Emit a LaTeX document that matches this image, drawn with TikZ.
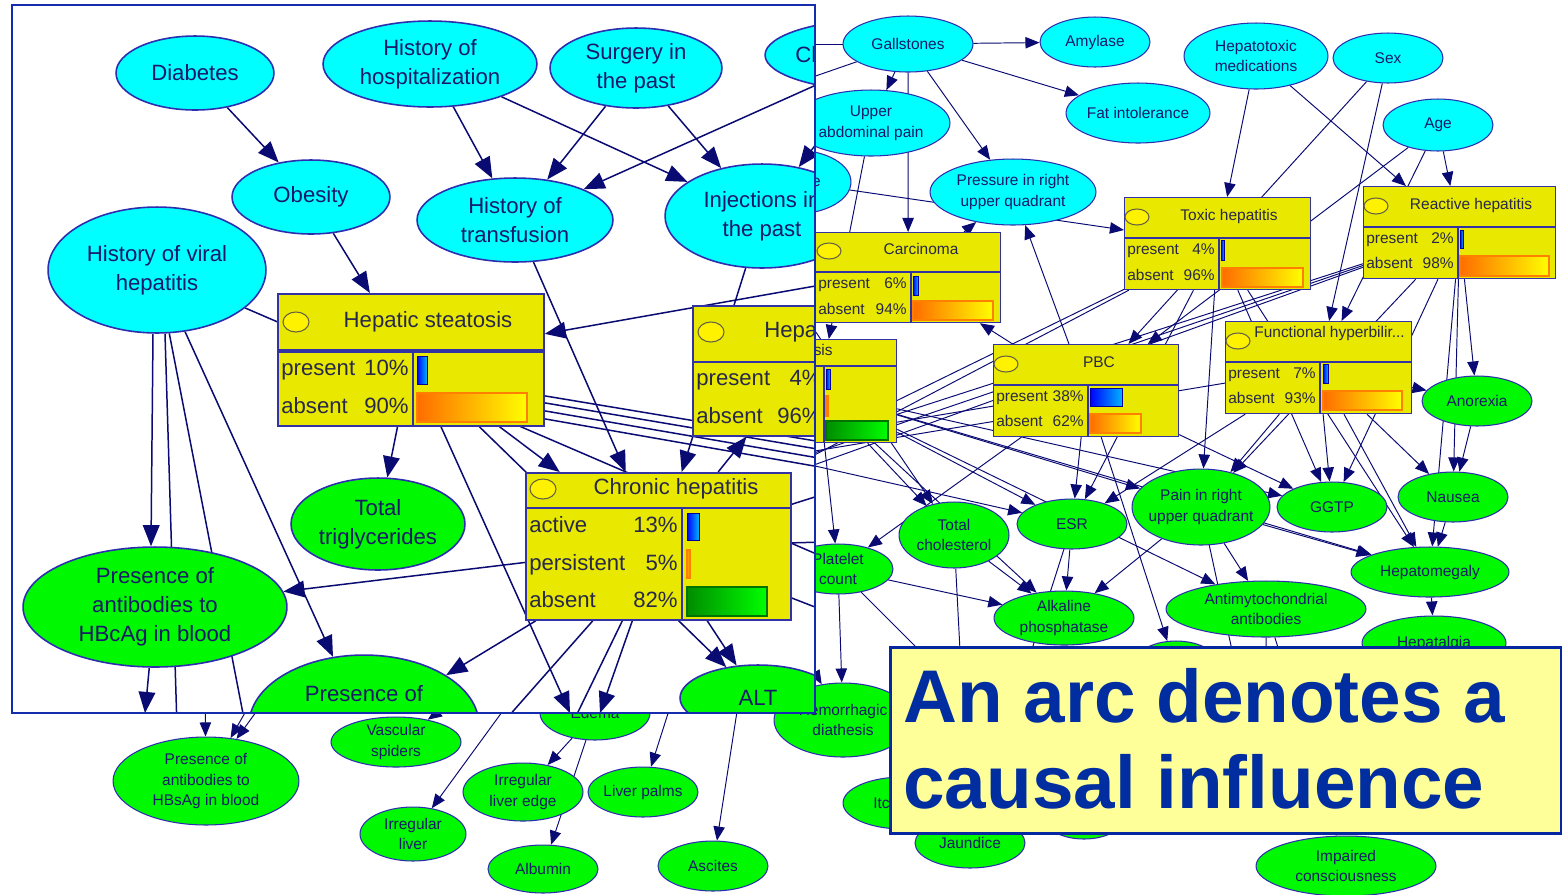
\documentclass[tikz,border=0pt]{standalone}
\usepackage{fontspec}
\setmainfont{Liberation Sans}
\usetikzlibrary{arrows.meta,shapes.geometric}

\definecolor{cyanfill}{RGB}{0,255,255}
\definecolor{greenfill}{RGB}{0,248,0}
\definecolor{nodeedge}{RGB}{45,45,175}
\definecolor{arrowc}{RGB}{10,10,115}
\definecolor{txt}{RGB}{25,25,105}
\definecolor{boxtxt}{RGB}{40,40,75}
\definecolor{boxfill}{RGB}{232,232,0}
\definecolor{boxedge}{RGB}{50,50,165}
\definecolor{capfill}{RGB}{255,255,153}
\definecolor{capedge}{RGB}{5,40,160}
\definecolor{captxt}{RGB}{0,45,160}
\definecolor{frameblue}{RGB}{20,45,175}

\newcommand\bgfont{\fontsize{8.8}{11.9}\selectfont}
\newcommand\insetfont{\fontsize{12.6}{16.6}\selectfont}
\newcommand\capfont{\fontsize{42.5}{49}\selectfont\bfseries}

\pgfdeclarelayer{paper}
\pgfdeclarelayer{bgedge}
\pgfdeclarelayer{insetfill}
\pgfdeclarelayer{insetedge}
\pgfdeclarelayer{insetnode}
\pgfdeclarelayer{captionlayer}
\pgfsetlayers{paper,bgedge,main,insetfill,insetedge,insetnode,captionlayer}

\tikzset{
  oval/.style args={#1/#2}{ellipse, inner sep=0pt, minimum width=#1*0.04cm, minimum height=#2*0.04cm},
  bgc/.style={oval=#1, fill=cyanfill, draw=nodeedge, line width=0.6pt},
  bgg/.style={oval=#1, fill=greenfill, draw=nodeedge, line width=0.6pt},
  inc/.style={oval=#1, fill=cyanfill, draw=nodeedge, line width=0.9pt},
  ing/.style={oval=#1, fill=greenfill, draw=nodeedge, line width=0.9pt},
  lbl/.style={font=\bgfont, text=txt, align=center, inner sep=0pt},
  ilbl/.style={font=\insetfont, text=txt, align=center, inner sep=0pt},
  pbox/.style={rectangle, inner sep=0pt, fill=boxfill, draw=boxedge, line width=0.7pt},
  pboxframe/.style={draw=boxedge, line width=0.7pt},
  ibox/.style={rectangle, inner sep=0pt, fill=boxfill, draw=boxedge, line width=1pt},
  iboxframe/.style={draw=boxedge, line width=1pt},
  btx/.style={font=\bgfont, text=boxtxt, inner sep=0pt, text height=6.3pt, text depth=1.8pt},
  itx/.style={font=\insetfont, text=boxtxt, inner sep=0pt, text height=9pt, text depth=2.6pt},
  icon/.style={fill=yellow, draw=black!70!yellow, line width=0.6pt},
  bluebar/.style={left color=blue, right color=cyan!70!blue, draw=blue!60!black, line width=0.4pt},
  orbar/.style={left color=orange!85!red, right color=yellow, draw=orange, line width=0.6pt},
  grbar/.style={left color=green!55!black, right color=green, draw=green!45!black, line width=0.6pt},
  bgarr/.style={draw=arrowc, line width=0.55pt, -{Triangle[length=8pt,width=6.5pt]}},
  inarr/.style={draw=arrowc, line width=0.85pt, -{Triangle[length=12pt,width=9.5pt]}},
  inln/.style={draw=arrowc, line width=0.85pt},
  capbox/.style={rectangle, inner sep=0pt, fill=capfill, draw=capedge, line width=1.8pt},
  captext/.style={font=\capfont, text=captxt, inner sep=0pt},
}

% probability box: name, x0, y0, x1, y1, title separator y, column separator x, style
\newcommand\probbox[8]{%
  \node[#8, minimum width={(#4-#2)*0.02cm}, minimum height={(#5-#3)*0.02cm}, anchor=north west] (#1) at (#2,#3) {};
  \draw[#8frame] (#2,#6) -- (#4,#6) (#7,#6) -- (#7,#5);}

\begin{document}
\begin{tikzpicture}[x=0.02cm, y=-0.02cm]
\useasboundingbox (0,0) rectangle (1562,894);
\begin{pgfonlayer}{paper}
  \fill[white] (0,0) rectangle (1562,894);
\end{pgfonlayer}

% ---------------- full network (background) ----------------
\node[bgc=65/28, label={[lbl]center:Gallstones}] (gall) at (908,44) {};
\node[bgc=55/25, label={[lbl]center:Amylase}] (amyl) at (1095,42) {};
\node[bgc=72/30, label={[lbl]center:Fat intolerance}] (fat) at (1138,113) {};
\node[bgc=79/33, label={[lbl]center:{Upper\\abdominal pain}}] (uap) at (871,123) {};
\node[bgc=56/32, label={[lbl]center:Fatigue}] (fatg) at (795,182) {};
\node[bgc=83/33, label={[lbl]center:{Pressure in right\\upper quadrant}}] (press) at (1013,192) {};
\node[bgc=72/33, label={[lbl]center:{Hepatotoxic\\medications}}] (hepmed) at (1256,56) {};
\node[bgc=55/25, label={[lbl]center:Sex}] (sex) at (1388,58) {};
\node[bgc=55/26, label={[lbl]center:Age}] (age) at (1438,125) {};

\node[bgg=55/25, label={[lbl]center:Anorexia}] (anor) at (1477,401) {};
\node[bgg=55/25, label={[lbl]center:Nausea}] (naus) at (1453,497) {};
\node[bgg=55/25, label={[lbl]center:GGTP}] (ggtp) at (1332,507) {};
\node[bgg=69/38, label={[lbl]center:{Pain in right\\upper quadrant}}] (pain) at (1201,507) {};
\node[bgg=79/25, label={[lbl]center:Hepatomegaly}] (hmeg) at (1430,572) {};
\node[bgg=100/28, label={[lbl]center:{Antimytochondrial\\antibodies}}] (anti) at (1266,609) {};
\node[bgg=72/27, label={[lbl]center:Hepatalgia}] (halg) at (1434,643) {};
\node[bgg=55/25, label={[lbl]center:ESR}] (esr) at (1072,524) {};
\node[bgg=55/33, label={[lbl]center:{Total\\cholesterol}}] (chol) at (954,535) {};
\node[bgg=55/25, label={[lbl]center:{Platelet\\count}}] (plat) at (838,569) {};
\node[bgg=70/27, label={[lbl]center:{Alkaline\\phosphatase}}] (alk) at (1064,618) {};
\node[bgg=69/37, label={[lbl]center:{Hemorrhagic\\diathesis}}] (hemo) at (843,720) {};
\node[bgg=60/26] (itch) at (903,803) {};
\node[lbl, anchor=west] (itcht) at (873,803) {Itch};
\node[bgg=55/25, label={[lbl]center:Jaundice}] (jaun) at (970,843) {};
\node[bgg=90/30, label={[lbl]center:{Impaired\\consciousness}}] (impc) at (1346,866) {};
\node[bgg=42/24] (hc1) at (1084,815) {};
\node[bgg=28/22] (hc2) at (1267,812) {};
\node[bgg=45/27] (hc3) at (1176,668) {};
\node[bgg=93/44, label={[lbl]center:{Presence of\\antibodies to\\HBsAg in blood}}] (hbs) at (206,781) {};
\node[bgg=65/25, label={[lbl]center:{Vascular\\spiders}}] (vasc) at (396,742) {};
\node[bgg=53/27, label={[lbl]center:{Irregular\\liver}}] (irl) at (413,834) {};
\node[bgg=60/29, label={[lbl]center:{Irregular\\liver edge}}] (irle) at (523,792) {};
\node[bgg=55/25, label={[lbl]center:Liver palms}] (palms) at (643,792) {};
\node[bgg=55/24, label={[lbl]center:Albumin}] (alb) at (543,869) {};
\node[bgg=55/25, label={[lbl]center:Ascites}] (asc) at (713,866) {};
\node[bgg=55/27, label={[lbl]center:Edema}] (edema) at (595,713) {};

% probability boxes of the full network
\probbox{carc}{815}{232}{1000}{322}{272}{911}{pbox}
\draw[icon] (829,251) ellipse [x radius=0.24cm, y radius=0.16cm];
\node[btx] (carct) at (921,251) {Carcinoma};
\node[btx, anchor=west] (carcp) at (818,285) {present};
\node[btx, anchor=east] (carcpv) at (907,285) {6\%};
\node[btx, anchor=west] (carca) at (818,311) {absent};
\node[btx, anchor=east] (carcav) at (907,311) {94\%};
\draw[bluebar] (913,276) rectangle (918,295);
\draw[orbar] (913,301) rectangle (993,320);

\probbox{cirr}{740}{339}{896}{442}{366}{824}{pbox}
\node[btx, anchor=east] (cirrt) at (833,352) {Cirrhosis};
\draw[bluebar] (826,369) rectangle (830,389);
\draw[orbar] (826,396) rectangle (828,416);
\draw[grbar] (826,421) rectangle (888,440);

\probbox{toxic}{1124}{197}{1310}{289}{238}{1219}{pbox}
\draw[icon] (1137,217) ellipse [x radius=0.24cm, y radius=0.16cm];
\node[btx] (toxict) at (1229,217) {Toxic hepatitis};
\node[btx, anchor=west] (toxicp) at (1127,251) {present};
\node[btx, anchor=east] (toxicpv) at (1215,251) {4\%};
\node[btx, anchor=west] (toxica) at (1127,277) {absent};
\node[btx, anchor=east] (toxicav) at (1215,277) {96\%};
\draw[bluebar] (1221,240) rectangle (1224,260);
\draw[orbar] (1222,268) rectangle (1303,287);

\probbox{react}{1363}{186}{1555}{278}{227}{1458}{pbox}
\draw[icon] (1376,206) ellipse [x radius=0.24cm, y radius=0.16cm];
\node[btx] (reactt) at (1471,206) {Reactive hepatitis};
\node[btx, anchor=west] (reactp) at (1366,240) {present};
\node[btx, anchor=east] (reactpv) at (1454,240) {2\%};
\node[btx, anchor=west] (reacta) at (1366,265) {absent};
\node[btx, anchor=east] (reactav) at (1454,265) {98\%};
\draw[bluebar] (1460,230) rectangle (1463,248);
\draw[orbar] (1460,256) rectangle (1549,276);

\probbox{pbc}{993}{344}{1178}{436}{385}{1088}{pbox}
\draw[icon] (1006,364) ellipse [x radius=0.24cm, y radius=0.16cm];
\node[btx] (pbct) at (1099,364) {PBC};
\node[btx, anchor=west] (pbcp) at (996,398) {present};
\node[btx, anchor=east] (pbcpv) at (1084,398) {38\%};
\node[btx, anchor=west] (pbca) at (996,423) {absent};
\node[btx, anchor=east] (pbcav) at (1084,423) {62\%};
\draw[bluebar] (1090,388) rectangle (1122,406);
\draw[orbar] (1090,414) rectangle (1141,433);

\probbox{func}{1225}{321}{1411}{413}{362}{1320}{pbox}
\draw[icon] (1238,341) ellipse [x radius=0.24cm, y radius=0.16cm];
\node[btx, anchor=west] (funct) at (1254,334) {Functional hyperbilir...};
\node[btx, anchor=west] (funcp) at (1228,375) {present};
\node[btx, anchor=east] (funcpv) at (1316,375) {7\%};
\node[btx, anchor=west] (funca) at (1228,400) {absent};
\node[btx, anchor=east] (funcav) at (1316,400) {93\%};
\draw[bluebar] (1323,364) rectangle (1328,383);
\draw[orbar] (1323,391) rectangle (1402,410);

% free ends of arcs that run to nodes hidden under the magnified view
\coordinate (k1) at (700,44);   \coordinate (k2) at (700,116);
\coordinate (k3) at (700,478);  \coordinate (k4) at (700,492);
\coordinate (k5) at (700,506);  \coordinate (k6) at (700,497);
\coordinate (k6b) at (700,515); \coordinate (k8) at (700,440);
\coordinate (k10) at (700,480); \coordinate (k11) at (760,250);
\coordinate (k15) at (540,660); \coordinate (k16) at (685,660);
\coordinate (k17) at (745,660); \coordinate (k18) at (470,690);
\coordinate (k19) at (205,690); \coordinate (k20) at (258,690);
\coordinate (k21) at (272,690); \coordinate (k23) at (700,470);
\coordinate (k24) at (700,455);

\begin{pgfonlayer}{bgedge}
\foreach \s/\t in {gall/amyl, gall/fat, gall/uap, gall/press, gall/carc, gall/k1, gall/k2,
  fatg/toxic, carc/press, pbc/press, pbc/carc, uap/cirr,
  hepmed/toxic, hepmed/react, sex/pbc, age/pbc, sex/func, age/func, age/react,
  react/anor, react/naus, react/hmeg, react/ggtp, react/k3, react/k4, react/k5, react/pain,
  anor/naus, naus/hmeg, func/anor, func/naus, func/ggtp, func/hmeg, func/pain, func/esr, func/k23,
  toxic/ggtp, toxic/hmeg, toxic/pain, toxic/esr, toxic/k6, toxic/k6b,
  pbc/esr, pbc/ggtp, pbc/plat, pbc/hc3, pbc/k24,
  cirr/plat, cirr/pain, cirr/esr, cirr/chol, cirr/ggtp, cirr/hmeg, cirr/alk, cirr/anti,
  k8/esr, k10/hemo, k11/chol,
  chol/alk, esr/alk, plat/alk, pain/alk, pain/hmeg, pain/anti, hmeg/halg,
  chol/jaun, plat/hemo, plat/hc1, esr/jaun, pain/hc2, alk/hc1, anti/hc2, anti/impc,
  k15/irl, k16/palms, k17/asc, k18/vasc, k19/hbs, k20/hbs, k21/hbs, edema/irle, edema/alb}
  \draw[bgarr] (\s) -- (\t);
\end{pgfonlayer}

% ---------------- magnified view ----------------
\begin{pgfonlayer}{insetfill}
  \fill[white] (12,5) rectangle (815,713);
\end{pgfonlayer}

\begin{pgfonlayer}{insetnode}
\begin{scope}
\clip (12,5) rectangle (815,713);
\node[inc=79/37, label={[ilbl]center:Diabetes}] (diab) at (195,73) {};
\node[inc=107/43, label={[ilbl]center:{History of\\hospitalization}}] (hosp) at (430,64) {};
\node[inc=86/40, label={[ilbl]center:{Surgery in\\the past}}] (surg) at (636,68) {};
\node[inc=118/36] (chx) at (883,55) {};
\node[ilbl, anchor=west] (chxt) at (795,55) {Ch};
\node[inc=79/37, label={[ilbl]center:Obesity}] (obes) at (311,197) {};
\node[inc=98/42, label={[ilbl]center:{History of\\transfusion}}] (trans) at (515,220) {};
\node[inc=97/52, label={[ilbl]center:{Injections in\\the past}}] (inj) at (762,216) {};
\node[inc=109/63, label={[ilbl]center:{History of viral\\hepatitis}}] (viral) at (157,270) {};
\node[ing=87/46, label={[ilbl]center:{Total\\triglycerides}}] (trig) at (378,524) {};
\node[ing=132/60, label={[ilbl]center:{Presence of\\antibodies to\\HBcAg in blood}}] (hbc) at (155,607) {};
\node[ing=115/70] (presb) at (364,725) {};
\node[ilbl] (presbt) at (364,694) {Presence of};
\node[ing=78/33, label={[ilbl]center:ALT}] (alt) at (758,698) {};

\probbox{steat}{277}{293}{543}{425}{351}{413}{ibox}
\draw[boxedge, line width=1.8pt] (277,351) -- (543,351);
\draw[icon] (296,322) ellipse [x radius=0.26cm, y radius=0.2cm];
\node[itx] (steatt) at (428,322) {Hepatic steatosis};
\node[itx, anchor=west] (steatp) at (281,370) {present};
\node[itx, anchor=east] (steatpv) at (409,370) {10\%};
\node[itx, anchor=west] (steata) at (281,408) {absent};
\node[itx, anchor=east] (steatav) at (409,408) {90\%};
\draw[bluebar] (417,356) rectangle (427,384);
\draw[orbar] (417,393) rectangle (527,422);

\probbox{hepa}{692}{305}{905}{435}{362}{823}{ibox}
\draw[icon] (711,332) ellipse [x radius=0.26cm, y radius=0.2cm];
\node[itx, anchor=west] (hepat) at (764,332) {Hepatic fibrosis};
\node[itx, anchor=west] (hepap) at (696,380) {present};
\node[itx, anchor=east] (hepapv) at (822,380) {4\%};
\node[itx, anchor=west] (hepaa) at (696,418) {absent};
\node[itx, anchor=east] (hepaav) at (822,418) {96\%};

\probbox{chron}{525}{472}{790}{619}{508}{682}{ibox}
\draw[icon] (543,489) ellipse [x radius=0.26cm, y radius=0.2cm];
\node[itx] (chront) at (676,489) {Chronic hepatitis};
\node[itx, anchor=west] (chron1) at (529,527) {active};
\node[itx, anchor=east] (chron1v) at (678,527) {13\%};
\node[itx, anchor=west] (chron2) at (529,565) {persistent};
\node[itx, anchor=east] (chron2v) at (678,565) {5\%};
\node[itx, anchor=west] (chron3) at (529,602) {absent};
\node[itx, anchor=east] (chron3v) at (678,602) {82\%};
\draw[bluebar] (687,513) rectangle (699,540);
\draw[orbar] (687,550) rectangle (690,578);
\draw[grbar] (687,587) rectangle (767,616);
\end{scope}
\draw[frameblue, line width=1.4pt] (12,5) rectangle (815,713);
\end{pgfonlayer}

% free ends of magnified arcs leaving the view
\coordinate (iv1) at (178,760); \coordinate (iv2) at (252,760);
\coordinate (ib1) at (145,713); \coordinate (ib2) at (470,760);
\coordinate (ib3) at (545,780); \coordinate (ie1) at (570,713);
\coordinate (ie2) at (600,713); \coordinate (io1) at (900,271);
\coordinate (io3) at (900,590); \coordinate (io4) at (900,455);
\coordinate (io5) at (900,463); \coordinate (io6) at (900,472);
\coordinate (io7) at (900,481); \coordinate (io8) at (900,470);
\coordinate (io9) at (900,540); \coordinate (io10) at (900,640);

\begin{pgfonlayer}{insetedge}
\begin{scope}
\clip (12,5) rectangle (815,713);
\foreach \s/\t in {diab/obes, obes/steat, hosp/trans, hosp/inj, surg/trans, surg/inj,
  chx/trans, chx/inj, trans/chron, inj/chron, chron/hepa, steat/chron, steat/alt,
  viral/presb, steat/trig, chron/hbc, chron/presb, chron/alt, hbc/ib1, steat/ie1, chron/ie2}
  \draw[inarr] (\s) -- (\t);
\draw[inarr] (io1) -- (steat.11);
\draw[inarr] ([xshift=-0.08cm]viral.south) -- ([xshift=-0.08cm]hbc.north);
\draw[inln] ([xshift=0.16cm]viral.south) -- (iv1);
\foreach \t in {iv2, io3} \draw[inln] (viral) -- (\t);
\draw[inln] ([yshift=-0.72cm]steat.east) -- (io4);
\draw[inln] ([yshift=-0.86cm]steat.east) -- (io5);
\draw[inln] ([yshift=-1.02cm]steat.east) -- (io6);
\draw[inln] ([yshift=-1.18cm]steat.east) -- (io7);
\foreach \t in {io8, io9, io10, ib2, ib3} \draw[inln] (chron) -- (\t);
\end{scope}
\end{pgfonlayer}

% ---------------- caption ----------------
\begin{pgfonlayer}{captionlayer}
\node[capbox, minimum width=671*0.02cm, minimum height=186*0.02cm, anchor=north west] (cap) at (889,646) {};
\node[captext, anchor=base west] (capa) at (903,722) {An arc denotes a};
\node[captext, anchor=base west] (capb) at (903,808) {causal influence};
\end{pgfonlayer}
\end{tikzpicture}
\end{document}
